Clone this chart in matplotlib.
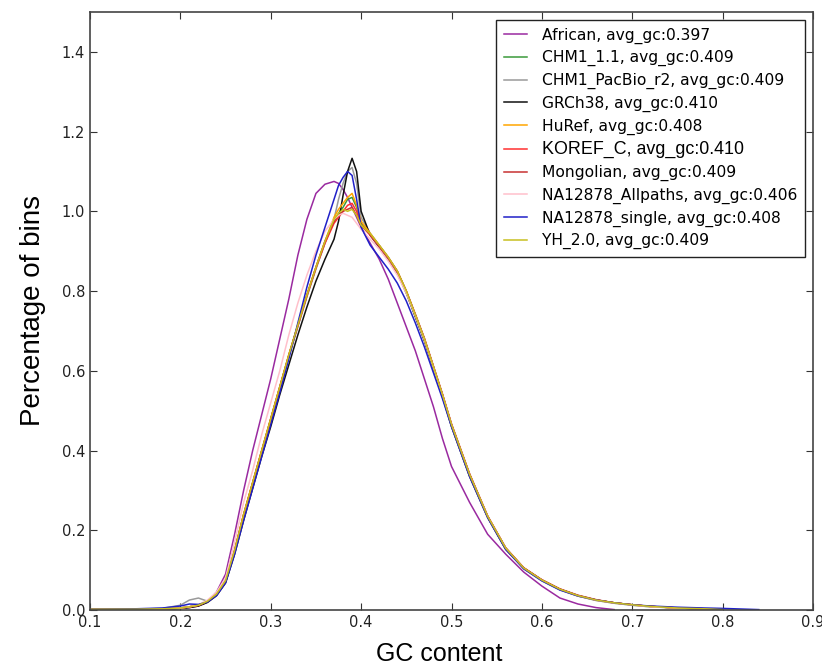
import matplotlib
matplotlib.use("Agg")
import matplotlib.pyplot as plt
from matplotlib.ticker import FormatStrFormatter

# GC content grid shared by all samples
gc = [0.10, 0.15, 0.18, 0.20, 0.21, 0.22, 0.23, 0.24, 0.25, 0.26,
      0.27, 0.28, 0.29, 0.30, 0.31, 0.32, 0.33, 0.34, 0.35, 0.36,
      0.37, 0.375, 0.38, 0.385, 0.39, 0.395, 0.40, 0.41, 0.42, 0.43,
      0.44, 0.45, 0.46, 0.47, 0.48, 0.49, 0.50, 0.52, 0.54, 0.56,
      0.58, 0.60, 0.62, 0.64, 0.66, 0.68, 0.70, 0.72, 0.75, 0.78,
      0.80, 0.84]

african = [0.001, 0.001, 0.002, 0.004, 0.006, 0.010, 0.020, 0.045, 0.090, 0.190,
           0.300, 0.400, 0.490, 0.580, 0.680, 0.780, 0.890, 0.980, 1.045, 1.068,
           1.075, 1.070, 1.055, 1.035, 1.010, 0.985, 0.960, 0.920, 0.880, 0.830,
           0.770, 0.710, 0.650, 0.580, 0.510, 0.430, 0.360, 0.270, 0.190, 0.140,
           0.095, 0.060, 0.030, 0.015, 0.006, 0.001]

chm1_11 = [0.002, 0.002, 0.003, 0.005, 0.008, 0.012, 0.022, 0.040, 0.072, 0.148,
           0.238, 0.318, 0.398, 0.478, 0.558, 0.638, 0.713, 0.788, 0.858, 0.922,
           0.975, 0.995, 1.010, 1.030, 1.035, 1.010, 0.970, 0.943, 0.913, 0.883,
           0.848, 0.798, 0.738, 0.678, 0.608, 0.538, 0.463, 0.338, 0.234, 0.154,
           0.104, 0.074, 0.051, 0.035, 0.024, 0.017, 0.012, 0.008, 0.005, 0.003,
           0.001]

chm1_pacbio = [0.002, 0.002, 0.004, 0.012, 0.025, 0.030, 0.022, 0.038, 0.070, 0.145,
               0.235, 0.315, 0.395, 0.475, 0.555, 0.635, 0.710, 0.785, 0.855, 0.920,
               0.980, 1.030, 1.070, 1.100, 1.110, 1.070, 0.985, 0.945, 0.915, 0.885,
               0.850, 0.800, 0.740, 0.680, 0.610, 0.540, 0.465, 0.340, 0.235, 0.155,
               0.105, 0.075, 0.052, 0.036, 0.025, 0.018, 0.013, 0.009, 0.005, 0.003,
               0.001]

grch38 = [0.001, 0.001, 0.002, 0.004, 0.006, 0.010, 0.019, 0.036, 0.068, 0.140,
          0.225, 0.305, 0.385, 0.460, 0.540, 0.615, 0.690, 0.760, 0.825, 0.880,
          0.930, 0.975, 1.040, 1.100, 1.133, 1.100, 1.000, 0.940, 0.910, 0.880,
          0.845, 0.795, 0.735, 0.675, 0.605, 0.535, 0.460, 0.335, 0.232, 0.152,
          0.105, 0.075, 0.052, 0.036, 0.025, 0.018, 0.013, 0.009, 0.005, 0.003,
          0.001]

huref = [0.002, 0.002, 0.003, 0.005, 0.008, 0.012, 0.022, 0.040, 0.075, 0.150,
         0.240, 0.320, 0.400, 0.480, 0.560, 0.640, 0.715, 0.790, 0.860, 0.925,
         0.985, 1.005, 1.020, 1.035, 1.045, 1.015, 0.975, 0.945, 0.915, 0.885,
         0.850, 0.800, 0.740, 0.680, 0.610, 0.540, 0.465, 0.340, 0.235, 0.155,
         0.105, 0.075, 0.052, 0.036, 0.025, 0.018, 0.013, 0.009, 0.005, 0.003,
         0.001]

koref_c = [0.002, 0.002, 0.003, 0.005, 0.008, 0.012, 0.022, 0.040, 0.073, 0.148,
           0.238, 0.318, 0.398, 0.478, 0.558, 0.638, 0.713, 0.788, 0.858, 0.920,
           0.970, 0.985, 1.000, 1.015, 1.020, 1.000, 0.965, 0.940, 0.912, 0.882,
           0.848, 0.798, 0.740, 0.680, 0.610, 0.540, 0.465, 0.340, 0.235, 0.155,
           0.105, 0.075, 0.052, 0.036, 0.025, 0.018, 0.013, 0.009, 0.005, 0.003,
           0.001]

mongolian = [0.002, 0.002, 0.003, 0.005, 0.008, 0.012, 0.022, 0.040, 0.074, 0.150,
             0.240, 0.320, 0.400, 0.480, 0.560, 0.640, 0.715, 0.790, 0.860, 0.925,
             0.975, 0.990, 1.000, 1.005, 1.010, 0.990, 0.965, 0.942, 0.914, 0.884,
             0.850, 0.800, 0.742, 0.682, 0.612, 0.542, 0.467, 0.342, 0.236, 0.156,
             0.106, 0.076, 0.053, 0.037, 0.026, 0.018, 0.013, 0.009, 0.005, 0.003,
             0.001]

na12878_allpaths = [0.002, 0.002, 0.003, 0.005, 0.008, 0.013, 0.025, 0.045, 0.080, 0.170,
                    0.270, 0.350, 0.440, 0.520, 0.600, 0.690, 0.770, 0.840, 0.900, 0.950,
                    0.980, 0.990, 0.995, 0.990, 0.985, 0.970, 0.955, 0.930, 0.905, 0.875,
                    0.840, 0.795, 0.738, 0.678, 0.608, 0.538, 0.463, 0.338, 0.234, 0.154,
                    0.104, 0.074, 0.051, 0.035, 0.024, 0.017, 0.012, 0.008, 0.005, 0.003,
                    0.001]

na12878_single = [0.002, 0.003, 0.005, 0.010, 0.015, 0.014, 0.020, 0.036, 0.068, 0.140,
                  0.225, 0.305, 0.385, 0.465, 0.545, 0.630, 0.720, 0.810, 0.890, 0.960,
                  1.030, 1.065, 1.085, 1.100, 1.090, 1.030, 0.960, 0.915, 0.885, 0.855,
                  0.820, 0.775, 0.720, 0.660, 0.595, 0.530, 0.460, 0.335, 0.232, 0.152,
                  0.103, 0.073, 0.050, 0.035, 0.025, 0.018, 0.013, 0.010, 0.007, 0.005,
                  0.004, 0.001]

yh_20 = [0.002, 0.002, 0.003, 0.005, 0.008, 0.012, 0.022, 0.040, 0.074, 0.150,
         0.240, 0.320, 0.400, 0.480, 0.560, 0.640, 0.715, 0.790, 0.860, 0.925,
         0.980, 0.995, 1.005, 1.000, 1.005, 0.990, 0.965, 0.944, 0.915, 0.885,
         0.850, 0.800, 0.740, 0.680, 0.610, 0.540, 0.465, 0.340, 0.235, 0.155,
         0.105, 0.075, 0.052, 0.036, 0.025, 0.018, 0.013, 0.009, 0.005, 0.003,
         0.001]

labels = ["African, avg_gc:0.397", "CHM1_1.1, avg_gc:0.409",
          "CHM1_PacBio_r2, avg_gc:0.409", "GRCh38, avg_gc:0.410",
          "HuRef, avg_gc:0.408", "KOREF_C, avg_gc:0.410",
          "Mongolian, avg_gc:0.409", "NA12878_Allpaths, avg_gc:0.406",
          "NA12878_single, avg_gc:0.408", "YH_2.0, avg_gc:0.409"]
colors = ["#9a2aa0", "#3a9a3a", "#9a9a9a", "#111111", "#ffa500",
          "#ff3030", "#c83232", "#ffc0cb", "#2020c8", "#c8c020"]
series = [african, chm1_11, chm1_pacbio, grch38, huref,
          koref_c, mongolian, na12878_allpaths, na12878_single, yh_20]

plt.rcParams["font.family"] = "DejaVu Sans"
fig = plt.figure(figsize=(8.22, 6.68), dpi=100)
ax = fig.add_axes([90 / 822, 58 / 668, 723 / 822, 598 / 668])

for vals, lab, col in zip(series, labels, colors):
    ax.plot(gc[:len(vals)], vals, color=col, lw=1.1, label=lab)

ax.set_xlim(0.1, 0.9)
ax.set_ylim(0.0, 1.5)
ax.set_xticks([0.1, 0.2, 0.3, 0.4, 0.5, 0.6, 0.7, 0.8, 0.9])
ax.set_yticks([0.0, 0.2, 0.4, 0.6, 0.8, 1.0, 1.2, 1.4])
ax.yaxis.set_major_formatter(FormatStrFormatter("%.1f"))
ax.tick_params(direction="in", top=True, right=True, length=5, width=0.8,
               labelsize=10.5, colors="#333333", labelcolor="#222222")
for sp in ax.spines.values():
    sp.set_color("#444444")
    sp.set_linewidth(1.2)

ax.set_xlabel("GC content", fontsize=18, family="Liberation Sans", va="top")
ax.xaxis.set_label_coords(0.483, -0.054)
ax.set_ylabel("Percentage of bins", fontsize=20, family="Liberation Sans", labelpad=11)

leg = ax.legend(loc="upper right", fontsize=11.2, handlelength=1.45,
                handletextpad=1.0, labelspacing=0.42, borderaxespad=0.5,
                borderpad=0.5, fancybox=False, framealpha=1.0)
leg.get_frame().set_edgecolor("#222222")
leg.get_frame().set_linewidth(1.0)
kt = leg.get_texts()[5]
kt.set_fontfamily("Liberation Sans")
kt.set_fontsize(12.9)

fig.savefig("out.png", dpi=100, facecolor="white")
